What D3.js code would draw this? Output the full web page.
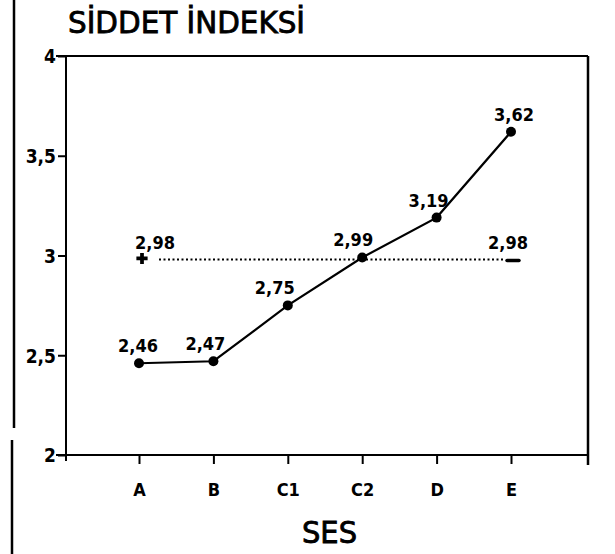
<!DOCTYPE html>
<html>
<head>
<meta charset="utf-8">
<script src="https://cdn.jsdelivr.net/npm/d3@7"></script>
<style>
  body { margin: 0; background: #fff; }
  svg text { font-family: "DejaVu Sans Condensed", "DejaVu Sans", sans-serif; font-stretch: condensed; font-weight: bold; fill: #000; }
</style>
</head>
<body>
<div id="chart"></div>
<script>
// data
var categories = ["A", "B", "C1", "C2", "D", "E"];
var values = [2.46, 2.47, 2.75, 2.99, 3.19, 3.62];
var refValue = 2.98;
var yTicks = [2, 2.5, 3, 3.5, 4];

var width = 615, height = 554;
var plotLeft = 66, plotRight = 588, plotTop = 56, plotBottom = 455;

var svg = d3.select("#chart").append("svg")
    .attr("width", width)
    .attr("height", height);

var x = d3.scalePoint().domain(categories).range([139, 511]);
var y = d3.scaleLinear().domain([2, 4]).range([plotBottom, plotTop]);
var fmt = function (d) { return String(d).replace(".", ","); };

// page margin line
svg.append("line").attr("x1", 14).attr("x2", 14).attr("y1", 0).attr("y2", 428)
    .attr("stroke", "#000").attr("stroke-width", 2.5);
svg.append("line").attr("x1", 12).attr("x2", 12).attr("y1", 440).attr("y2", 554)
    .attr("stroke", "#000").attr("stroke-width", 2.5);

// frame
svg.append("line").attr("x1", plotLeft - 10).attr("x2", plotRight).attr("y1", plotTop).attr("y2", plotTop)
    .attr("stroke", "#000").attr("stroke-width", 2);
svg.append("line").attr("x1", plotRight).attr("x2", plotRight).attr("y1", plotTop).attr("y2", plotBottom + 10)
    .attr("stroke", "#000").attr("stroke-width", 2.5);

var yAxis = svg.append("g")
    .attr("transform", "translate(" + plotLeft + ",0)")
    .call(d3.axisLeft(y).tickValues(yTicks).tickSize(8).tickPadding(2).tickFormat(fmt));
yAxis.select(".domain").attr("stroke-width", 2).attr("d", "M0," + plotTop + "V" + (plotBottom + 6));
yAxis.selectAll(".tick line").attr("stroke-width", 2);
yAxis.selectAll(".tick text").style("font-size", "19px").attr("dy", "0.36em");

var xAxis = svg.append("g")
    .attr("transform", "translate(0," + plotBottom + ")")
    .call(d3.axisBottom(x).tickSize(9).tickPadding(19));
xAxis.select(".domain").attr("stroke-width", 2).attr("d", "M" + (plotLeft - 10) + ",0H" + plotRight);
xAxis.selectAll(".tick line").attr("stroke-width", 2);
xAxis.selectAll(".tick text").style("font-size", "18px");

// title and axis label
svg.append("text").attr("x", 68).attr("y", 33).style("font-size", "31px").style("font-weight", "normal")
    .attr("stroke", "#000").attr("stroke-width", 0.8)
    .attr("textLength", 237).attr("lengthAdjust", "spacingAndGlyphs")
    .text("SİDDET İNDEKSİ");
svg.append("text").attr("x", 302).attr("y", 543)
    .style("font-size", "30px").style("font-weight", "normal")
    .attr("stroke", "#000").attr("stroke-width", 0.8)
    .attr("textLength", 55).attr("lengthAdjust", "spacingAndGlyphs")
    .text("SES");

// reference line with its end markers
svg.append("line")
    .attr("x1", x("A") + 20).attr("x2", x("E") - 6)
    .attr("y1", y(refValue)).attr("y2", y(refValue))
    .attr("stroke", "#000").attr("stroke-width", 1.8).attr("stroke-dasharray", "2,2.5");
svg.append("path")
    .attr("transform", "translate(" + (x("A") + 3) + "," + (y(refValue) - 1) + ")")
    .attr("d", d3.symbol(d3.symbolCross, 70)());
svg.append("line").attr("x1", x("E") - 4).attr("x2", x("E") + 8)
    .attr("y1", y(refValue) + 1).attr("y2", y(refValue) + 1)
    .attr("stroke", "#000").attr("stroke-width", 3.5).attr("stroke-linecap", "round");
svg.append("text").attr("x", x("A") + 16).attr("y", y(refValue) - 10).attr("text-anchor", "middle")
    .style("font-size", "18px").text(fmt(refValue));
svg.append("text").attr("x", x("E") - 3).attr("y", y(refValue) - 10).attr("text-anchor", "middle")
    .style("font-size", "18px").text(fmt(refValue));

// main series
var pts = categories.map(function (c, i) { return { c: c, v: values[i] }; });
svg.append("path").datum(pts)
    .attr("fill", "none").attr("stroke", "#000").attr("stroke-width", 2.2)
    .attr("d", d3.line().x(function (d) { return x(d.c); }).y(function (d) { return y(d.v); }));
svg.selectAll(".dot").data(pts).enter().append("circle")
    .attr("class", "dot")
    .attr("cx", function (d) { return x(d.c); })
    .attr("cy", function (d) { return y(d.v); })
    .attr("r", 5);
var labelDx = { A: -1, B: -8, C1: -13, C2: -9, D: -8, E: 3 };
svg.selectAll(".lbl").data(pts).enter().append("text")
    .attr("class", "lbl")
    .attr("x", function (d) { return x(d.c) + labelDx[d.c]; })
    .attr("y", function (d) { return y(d.v) - 11; })
    .attr("text-anchor", "middle")
    .style("font-size", "18px")
    .text(function (d) { return fmt(d.v); });
</script>
</body>
</html>
